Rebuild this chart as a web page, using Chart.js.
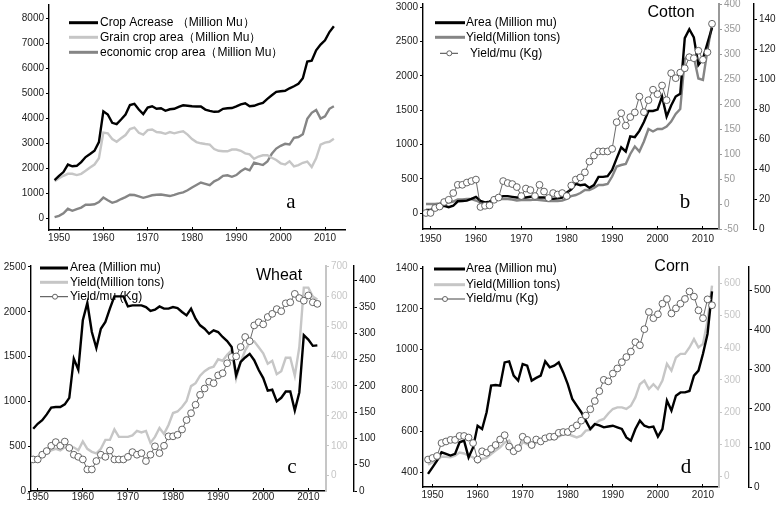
<!DOCTYPE html>
<html>
<head>
<meta charset="utf-8">
<script src="https://cdn.jsdelivr.net/npm/chart.js@4"></script>
<style>
body{margin:0;background:#fff;width:778px;height:508px;position:relative;overflow:hidden}
canvas{position:absolute}
</style>
</head>
<body>
<canvas id="pa" width="390" height="254" style="left:0;top:0"></canvas>
<canvas id="pb" width="388" height="254" style="left:390px;top:0"></canvas>
<canvas id="pc" width="390" height="254" style="left:0;top:254px"></canvas>
<canvas id="pd" width="388" height="254" style="left:390px;top:254px"></canvas>
<script>
var years = [1949,1950,1951,1952,1953,1954,1955,1956,1957,1958,1959,1960,1961,1962,1963,1964,1965,1966,1967,1968,
  1969,1970,1971,1972,1973,1974,1975,1976,1977,1978,1979,1980,1981,1982,1983,1984,1985,1986,1987,1988,
  1989,1990,1991,1992,1993,1994,1995,1996,1997,1998,1999,2000,2001,2002,2003,2004,2005,2006,2007,2008,
  2009,2010,2011,2012]
var xTicks = [1950,1960,1970,1980,1990,2000,2010]

// a - crop areas (Million Mu)
var cropAcreage = [1530,1700,1850,2150,2080,2100,2250,2450,2570,2700, 3050,4280,4150,3820,3770,3950,4150,4530,4580,4350,
  4170,4430,4480,4380,4400,4300,4360,4380,4460,4520, 4500,4480,4470,4470,4350,4300,4260,4270,4380,4400,
  4410,4480,4560,4600,4480,4500,4570,4620,4780,4920, 5060,5080,5100,5200,5280,5380,5600,6270,6300,6720, 6950,7120,7450,7680]
var grainArea = [1480,1600,1700,1780,1780,1730,1780,1900,2030,2150, 2400,3430,3400,3170,3060,3200,3330,3570,3630,3420,
  3350,3530,3550,3450,3430,3380,3450,3400,3450,3480, 3350,3170,3050,3000,2970,2950,2770,2700,2680,2680,
  2750,2750,2700,2600,2560,2380,2470,2520,2520,2420, 2330,2200,2150,2280,2080,2130,2220,2270,2050,2400, 2950,3030,3060,3180]
var econArea = [50,100,200,380,300,370,430,540,540,560, 650,830,720,620,680,770,850,940,930,880,
  820,870,920,940,950,920,890,940,1000,1040, 1120,1230,1330,1430,1380,1330,1480,1560,1700,1720,
  1660,1730,1880,1990,1920,2230,2180,2130,2270,2580, 2790,2900,2980,2950,3220,3250,3360,3980,4220,4330, 3990,4080,4380,4480]

// b - cotton
var cottonArea = [50,50,70,90,110,90,110,175,180,185, 210,240,180,160,170,210,230,250,250,240,
  230,230,230,240,240,230,230,220,210,220, 230,300,350,430,410,420,370,410,530,530,
  540,630,800,960,900,1120,1110,1200,1330,1490, 1490,1510,1700,1410,1570,1700,1740,2550,2680,2560, 2160,2250,2480,2700]
var cottonYield = [0,0,0,1,3,3,5,9,9,10, 10,7,3,2,3,5,10,10,10,9,
  7,8,8,8,9,8,7,6,6,6, 7,10,16,18,22,28,28,32,38,38,
  40,55,75,78,80,100,115,105,125,150, 145,150,150,155,165,180,190,290,298,294, 251,248,308,358]
var cottonYpm = [10.7,10.7,14,15,18,19.5,24,29.5,29.5,31, 32,33,14.7,15.5,15.8,19.5,21,32,30.7,30,
  28,22,27,26,22,29.5,25,20.7,24,23, 24,22,29,33,34.4,37.8,45,49,51.8,51.8,
  51.8,53.5,71.3,77.3,69,74.7,77.8,88.4,78,86, 93,90,95.8,86,104,100.7,104.4,107.3,114.7,114, 119,113,118,137]

// c - wheat
var wheatArea = [695,750,790,855,930,937,937,967,1040,1477, 1354,1905,2098,1774,1596,1811,1886,2035,2172,2172,
  2172,2060,2072,2072,2072,2053,2009,2023,2060,2035, 2035,2053,2042,1998,1960,2035,1923,1849,1811,1755,
  1793,1774,1719,1674,1607,1290,1440,1490,1530,1460, 1350,1260,1120,1130,1000,1040,1110,1110,900,1100, 1740,1690,1620,1625]
var wheatYield = [55,60,65,75,85,90,85,95,95,95, 85,115,90,80,75,90,120,120,155,130,
  130,130,135,150,145,150,110,130,160,140, 170,210,215,230,250,300,310,335,350,360,
  365,390,385,405,420,325,380,420,445,450, 430,410,375,385,340,350,395,395,335,430, 630,630,600,590]
var wheatYpm = [60,60,69,76,86,93,86,94,82,69, 65,60,41,41,57,69,65,77,60,60,
  60,65,74,69,72,57,69,85,72,86, 104,104,107,117,135,148,164,183,195,208,
  205,220,224,243,255,256,274,293,285,315, 321,317,331,337,346,342,357,359,375,367, 362,372,359,356]

// d - corn
var cornArea = [392,424,457,498,490,482,490,547,555,473, 522,628,612,694,824,827,824,938,943,873,
  849,930,922,849,862,873,943,914,922,938, 889,832,759,726,694,653,612,636,630,620,
  624,628,620,612,571,555,612,653,628,620, 624,575,612,751,702,775,791,791,798,873, 898,980,1077,1286]
var cornYield = [37,44,50,62,62,60,65,75,72,65, 60,44,55,58,70,81,91,106,112,86,
  81,107,101,91,107,112,117,117,117,124, 132,132,127,122,127,143,145,163,174,179,
  196,210,215,215,210,220,246,287,298,272, 287,272,298,350,329,370,381,381,401,427, 401,412,484,593]
var cornYpm = [70,74,79,112,116,120,120,130,130,126, 112,70,91,87,97,107,121,132,103,91,
  99,128,120,107,121,116,124,128,128,138, 140,140,149,157,169,182,198,219,244,273,
  269,289,302,318,331,345,369,361,402,446, 430,440,467,479,442,455,467,479,498,485, 450,430,478,463]

var FONT = "'Liberation Sans', Arial, sans-serif"
var LIGHT = '#c6c6c6', MID = '#858585'

function pts(vals){
    return years.map(function(y,i){ return {x:y, y:vals[i]} })
}

function yAxis(pos, min, max, ticks, width, color, weight, bw){
    return {
        type:'linear', position:pos, min:min, max:max, weight:weight,
        afterBuildTicks:function(s){ s.ticks = ticks.map(function(v){ return {value:v} }) },
        afterFit:function(s){ s.width = width; s.paddingTop = 0; s.paddingBottom = 0 },
        grid:{display:true, drawOnChartArea:false, drawTicks:true, tickLength:3, color:color, lineWidth:1},
        border:{display:true, color:color, width:bw || 1.4},
        ticks:{color:color=='#000'?'#222':color, autoSkip:false, padding:2, font:{size:10, family:FONT},
            callback:function(v){ return String(v) }}
    }
}

// x ticks point up into the plot, like the original
function xAxis(min, max, height, pad){
    return {
        type:'linear', position:'bottom', min:min, max:max,
        afterBuildTicks:function(s){ s.ticks = xTicks.map(function(v){ return {value:v} }) },
        afterFit:function(s){ s.height = height; s.paddingLeft = 0; s.paddingRight = 0 },
        grid:{display:true, drawOnChartArea:false, drawTicks:true, tickLength:-3, color:'#000'},
        border:{display:true, color:'#000', width:1.4},
        ticks:{color:'#222', autoSkip:false, maxRotation:0, padding:pad + 3, font:{size:10, family:FONT},
            callback:function(v){ return String(v) }}
    }
}

function line(label, vals, color, axis){
    return {label:label, data:pts(vals), borderColor:color, borderWidth:2.4, pointRadius:0, yAxisID:axis}
}
function circles(label, vals, axis){
    return {label:label, data:pts(vals), borderColor:'#444', borderWidth:0.8, yAxisID:axis,
        pointRadius:3.4, pointBackgroundColor:'#fff', pointBorderColor:'#555', pointBorderWidth:0.9, order:-1}
}

// draws legend entries, title and panel letter
var deco = {
    id:'deco',
    afterDraw:function(chart, args, o){
        var ctx = chart.ctx
        ctx.save()
        ctx.textBaseline = 'middle'
        o.items.forEach(function(it){
            var ds = chart.data.datasets[it.ds]
            ctx.strokeStyle = ds.borderColor
            ctx.lineWidth = it.r ? 1 : 3
            ctx.beginPath(); ctx.moveTo(it.x1, it.y); ctx.lineTo(it.x2, it.y); ctx.stroke()
            if(it.r){
                ctx.beginPath(); ctx.arc(it.cx, it.y, it.r, 0, Math.PI*2)
                ctx.fillStyle = '#fff'; ctx.fill()
                ctx.strokeStyle = '#555'; ctx.lineWidth = 0.9; ctx.stroke()
            }
            ctx.fillStyle = '#000'
            ctx.font = '12px ' + FONT
            ctx.textAlign = 'left'
            ctx.fillText(ds.label, it.tx, it.y)
        })
        if(o.title){
            ctx.font = '16px ' + FONT
            ctx.textAlign = 'center'
            ctx.fillStyle = '#000'
            ctx.fillText(o.title[0], o.title[1], o.title[2])
        }
        ctx.font = '21px "Liberation Serif", "Times New Roman", serif'
        ctx.textAlign = 'center'
        ctx.fillStyle = '#000'
        ctx.fillText(o.letter[0], o.letter[1], o.letter[2])
        ctx.restore()
    }
}

function baseOptions(padding, scales, decoOpts){
    return {
        responsive:false, animation:false, devicePixelRatio:1, events:[],
        layout:{padding:padding, autoPadding:false},
        plugins:{legend:{display:false}, tooltip:{enabled:false}, deco:decoOpts},
        scales:scales
    }
}

// panel a
new Chart(document.getElementById('pa').getContext('2d'), {
    type:'line',
    data:{datasets:[
        line('Crop Acrease （Million Mu）', cropAcreage, '#000', 'y'),
        line('Grain crop area（Million Mu）', grainArea, LIGHT, 'y'),
        line('economic crop area（Million Mu）', econArea, MID, 'y')
    ]},
    options:baseOptions({left:0, top:5, right:45, bottom:0}, {
        x:xAxis(1947.74, 2014.51, 24, 2),
        y:yAxis('left', -468, 8532, [0,1000,2000,3000,4000,5000,6000,7000,8000], 49, '#000', 0)
    }, {
        items:[
            {ds:0, x1:69, x2:98, tx:100, y:22.7},
            {ds:1, x1:69, x2:98, tx:100, y:37.3},
            {ds:2, x1:69, x2:98, tx:100, y:52.3}
        ],
        letter:['a', 291, 202]
    }),
    plugins:[deco]
})

// panel b
new Chart(document.getElementById('pb').getContext('2d'), {
    type:'line',
    data:{datasets:[
        line('Area (Million mu)', cottonArea, '#000', 'y'),
        line('Yield(Million tons)', cottonYield, MID, 'y2'),
        circles('Yield/mu (Kg)', cottonYpm, 'y3')
    ]},
    options:baseOptions({left:0, top:4, right:0, bottom:0}, {
        x:xAxis(1948.34, 2013.54, 25, 4),
        y:yAxis('left', -228.6, 3048, [0,500,1000,1500,2000,2500,3000], 33, '#000', 0),
        y2:yAxis('right', -50, 400, [-50,0,50,100,150,200,250,300,350,400], 35, '#999', 1, 2),
        y3:yAxis('right', 0, 150.2, [0,20,40,60,80,100,120,140], 24, '#000', 2)
    }, {
        items:[
            {ds:0, x1:45, x2:75, tx:76, y:22.7},
            {ds:1, x1:45, x2:75, tx:76, y:37.3},
            {ds:2, x1:50, x2:68, tx:80, y:53.3, cx:59.3, r:2.5}
        ],
        title:['Cotton', 281, 13],
        letter:['b', 295, 202]
    }),
    plugins:[deco]
})

// panel c
new Chart(document.getElementById('pc').getContext('2d'), {
    type:'line',
    data:{datasets:[
        line('Area (Million mu)', wheatArea, '#000', 'y'),
        line('Yield(Million tons)', wheatYield, LIGHT, 'y2'),
        circles('Yield/mu (Kg)', wheatYpm, 'y3')
    ]},
    options:baseOptions({left:0, top:12, right:0, bottom:0}, {
        x:xAxis(1948.51, 2013.92, 17, 0),
        y:yAxis('left', 0, 2511, [0,500,1000,1500,2000,2500], 31, '#000', 0),
        y2:yAxis('right', -51.2, 702.3, [0,100,200,300,400,500,600,700], 28, LIGHT, 1, 2),
        y3:yAxis('right', 0, 428, [0,50,100,150,200,250,300,350,400], 36, '#000', 2)
    }, {
        items:[
            {ds:0, x1:40, x2:68, tx:70, y:14},
            {ds:1, x1:40, x2:68, tx:70, y:28.3},
            {ds:2, x1:40, x2:68, tx:70, y:42.7, cx:55, r:2.5}
        ],
        title:['Wheat', 279, 21.7],
        letter:['c', 292, 213]
    }),
    plugins:[deco]
})

// panel d
new Chart(document.getElementById('pd').getContext('2d'), {
    type:'line',
    data:{datasets:[
        line('Area (Million mu)', cornArea, '#000', 'y'),
        line('Yield(Million tons)', cornYield, LIGHT, 'y2'),
        circles('Yield/mu (Kg)', cornYpm, 'y3')
    ]},
    options:baseOptions({left:0, top:13, right:0, bottom:0}, {
        x:xAxis(1947.89, 2013.55, 21, 2),
        y:yAxis('left', 328, 1405, [400,600,800,1000,1200,1400], 33, '#000', 0),
        y2:yAxis('right', -32, 650.6, [0,100,200,300,400,500,600], 30, LIGHT, 1, 2),
        y3:yAxis('right', 0, 560.4, [0,100,200,300,400,500], 29, '#000', 2)
    }, {
        items:[
            {ds:0, x1:44, x2:75, tx:76, y:15},
            {ds:1, x1:44, x2:75, tx:76, y:30.7},
            {ds:2, x1:44, x2:75, tx:76, y:45, cx:55, r:2.5}
        ],
        title:['Corn', 281.7, 12.7],
        letter:['d', 296, 213]
    }),
    plugins:[deco]
})
</script>
</body>
</html>
